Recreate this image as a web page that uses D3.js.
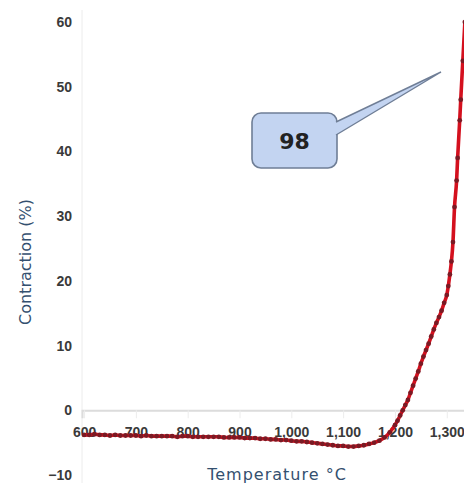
<!DOCTYPE html>
<html>
<head>
<meta charset="utf-8">
<script src="https://cdn.jsdelivr.net/npm/d3@7/dist/d3.min.js"></script>
<style>
  html, body { margin: 0; padding: 0; background: #fff; }
  svg { display: block; }
</style>
</head>
<body>
<div id="chart"></div>
<script>
// Dilatometer run: contraction of the sample versus furnace temperature
const temperatures = [
  600, 610, 620, 630, 640, 650, 660, 670, 680, 690,
  700, 710, 720, 730, 740, 750, 760, 770, 780, 790,
  800, 810, 820, 830, 840, 850, 860, 870, 880, 890,
  900, 910, 920, 930, 940, 950, 960, 970, 980, 990,
  1000, 1010, 1020, 1030, 1040, 1050, 1060, 1070, 1080, 1090,
  1100, 1110, 1120, 1130, 1140, 1150, 1160, 1170, 1180, 1190,
  1200, 1205, 1210, 1215, 1220, 1225, 1230, 1235, 1240, 1245,
  1250, 1255, 1260, 1265, 1270, 1275, 1280, 1285, 1290, 1295,
  1300, 1303, 1306, 1309, 1312, 1315, 1319, 1321, 1325, 1327,
  1331, 1335
];
const contraction = [
  -3.8, -3.8, -3.7, -3.8, -3.8, -3.9, -3.8, -3.9, -3.9, -3.9,
  -3.9, -4.0, -3.9, -4.0, -4.0, -4.0, -4.0, -4.0, -4.1, -4.0,
  -4.0, -4.1, -4.1, -4.1, -4.1, -4.1, -4.1, -4.2, -4.2, -4.2,
  -4.2, -4.3, -4.3, -4.3, -4.4, -4.4, -4.5, -4.5, -4.6, -4.6,
  -4.7, -4.8, -4.8, -4.9, -5.0, -5.1, -5.2, -5.3, -5.4, -5.5,
  -5.5, -5.6, -5.6, -5.5, -5.4, -5.2, -5.0, -4.7, -4.2, -3.4,
  -2.3, -1.6, -0.8, 0.0, 0.8, 1.6, 2.7, 3.8, 4.9, 6.0,
  7.2, 8.3, 9.3, 10.3, 11.4, 12.5, 13.5, 14.4, 15.4, 16.6,
  17.8, 19.2, 21.0, 23.0, 26.0, 31.4, 35.5, 39.0, 44.8, 48.0,
  54.0, 60.0
];
const xTickValues = [600, 700, 800, 900, 1000, 1100, 1200, 1300];
const yTickValues = [-10, 0, 10, 20, 30, 40, 50, 60];
const calloutText = "98";

const width = 464, height = 486;
const margin = { top: 22, right: -4, bottom: 11, left: 82 };

const svg = d3.select("#chart").append("svg")
  .attr("width", width).attr("height", height);

const x = d3.scaleLinear()
  .domain([596, 1341])
  .range([margin.left, width - margin.right]);
const y = d3.scaleLinear()
  .domain([-10, 60])
  .range([height - margin.bottom, margin.top]);

const points = temperatures.map((t, i) => ({ t, v: contraction[i] }));

// left edge of the plot area
svg.append("line")
  .attr("x1", x(596)).attr("x2", x(596))
  .attr("y1", y(60) - 12).attr("y2", y(-10) + 8)
  .attr("stroke", "#ececec").attr("stroke-width", 1);

// y axis labels (no line)
const yAxis = d3.axisLeft(y).tickValues(yTickValues).tickSize(0).tickPadding(0);
const yG = svg.append("g")
  .attr("transform", `translate(${margin.left - 10},0)`)
  .call(yAxis);
yG.select(".domain").remove();
yG.selectAll("text")
  .attr("font-family", "Liberation Sans, Arial, sans-serif")
  .attr("font-size", 14).attr("font-weight", "bold")
  .attr("fill", "#3a3a3a");

// x axis along the zero line
const xAxis = d3.axisBottom(x).tickValues(xTickValues)
  .tickFormat(d3.format(",")).tickSize(8).tickPadding(9);
const xG = svg.append("g")
  .attr("transform", `translate(0,${y(0)})`)
  .call(xAxis);
xG.select(".domain").attr("stroke", "#dcdcdc").attr("stroke-width", 2);
xG.selectAll(".tick line").attr("stroke", "#ececec");
xG.selectAll("text")
  .attr("font-family", "Liberation Sans, Arial, sans-serif")
  .attr("font-size", 14).attr("font-weight", "bold")
  .attr("fill", "#3a3a3a");

// contraction curve
const line = d3.line().x(d => x(d.t)).y(d => y(d.v)).curve(d3.curveMonotoneX);
svg.append("path")
  .datum(points)
  .attr("d", line)
  .attr("fill", "none")
  .attr("stroke", "#d4101e")
  .attr("stroke-width", 3.6)
  .attr("stroke-linejoin", "round");

svg.append("g").selectAll("circle")
  .data(points)
  .join("circle")
  .attr("cx", d => x(d.t))
  .attr("cy", d => y(d.v))
  .attr("r", 2.4)
  .attr("fill", "#7a1a24");

// axis titles
svg.append("text")
  .attr("x", 277).attr("y", 480)
  .attr("text-anchor", "middle")
  .attr("font-family", "DejaVu Sans, Verdana, sans-serif")
  .attr("font-size", 16)
  .attr("letter-spacing", 1)
  .attr("fill", "#34506f")
  .text("Temperature °C");

svg.append("text")
  .attr("transform", "translate(31,262) rotate(-90)")
  .attr("text-anchor", "middle")
  .attr("font-family", "DejaVu Sans, Verdana, sans-serif")
  .attr("font-size", 16)
  .attr("fill", "#34506f")
  .text("Contraction (%)");

// callout bubble with pointer
const box = { x0: 252, y0: 113, x1: 337, y1: 168, r: 9 };
const tip = { x: 441, y: 72 };
const callout = svg.append("g");
callout.append("rect")
  .attr("x", box.x0).attr("y", box.y0)
  .attr("width", box.x1 - box.x0).attr("height", box.y1 - box.y0)
  .attr("rx", box.r).attr("ry", box.r)
  .attr("fill", "#c3d4f1").attr("stroke", "#6f7e96").attr("stroke-width", 1.6);
callout.append("path")
  .attr("d", `M${box.x1 - 1},${box.y0 + 9} L${tip.x},${tip.y} L${box.x1 - 1},${box.y0 + 22}`)
  .attr("fill", "#c3d4f1").attr("stroke", "#6f7e96").attr("stroke-width", 1.4)
  .attr("stroke-linejoin", "miter");
callout.append("text")
  .attr("x", (box.x0 + box.x1) / 2).attr("y", (box.y0 + box.y1) / 2 + 8)
  .attr("text-anchor", "middle")
  .attr("font-family", "DejaVu Sans, Verdana, sans-serif")
  .attr("font-size", 22).attr("font-weight", "bold")
  .attr("fill", "#222")
  .text(calloutText);
</script>
</body>
</html>
